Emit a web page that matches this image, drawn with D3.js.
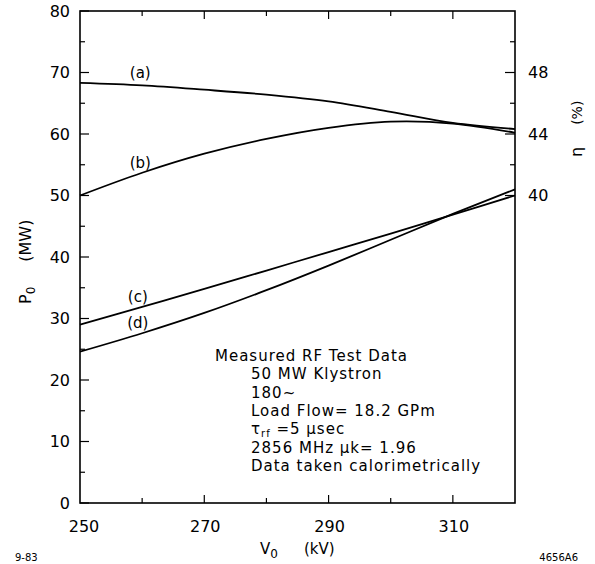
<!DOCTYPE html>
<html>
<head>
<meta charset="utf-8">
<script src="https://cdn.jsdelivr.net/npm/d3@7"></script>
<style>
  body { margin: 0; background: #fff; }
  svg { font-family: "DejaVu Sans", sans-serif; }
</style>
</head>
<body>
<div id="chart"></div>
<script>
// data
const voltage = [250, 260, 270, 280, 290, 300, 310, 320];
const curveA = [68.3, 67.9, 67.2, 66.4, 65.3, 63.6, 61.8, 60.8];
const curveB = [50.0, 53.7, 56.8, 59.2, 61.0, 62.0, 61.7, 60.2];
const curveC = [29.0, 31.9, 34.8, 37.8, 40.8, 43.8, 46.9, 50.0];
const curveD = [24.6, 27.6, 30.9, 34.6, 38.6, 42.8, 47.0, 51.0];
const curveNames = ["(a)", "(b)", "(c)", "(d)"];
// label anchor positions (kV, MW)
const labelV = [259.7, 259.7, 259.3, 259.3];
const labelP = [69.1, 54.5, 32.7, 28.5];

const xTickLabels = [250, 270, 290, 310];
const xMinorTicks = [260, 280, 300];
const pTicks = [0, 10, 20, 30, 40, 50, 60, 70, 80];
const pMinor = [5, 15, 25, 35, 45, 55, 65, 75];
const etaTicks = [40, 42, 44, 46, 48, 50];
const etaLabels = [40, 44, 48];

const noteLines = [
  "Measured RF Test Data",
  "50 MW Klystron",
  "180~",
  "Load Flow= 18.2 GPm",
  "τ|rf| =5 μsec",
  "2856 MHz  μk= 1.96",
  "Data taken calorimetrically"
];

const W = 595, H = 564;
const svg = d3.select("#chart").append("svg")
  .attr("width", W).attr("height", H);

const x = d3.scaleLinear().domain([250, 320]).range([80, 515]);
const y = d3.scaleLinear().domain([0, 80]).range([503, 11]);
const yEta = d3.scaleLinear().domain([20, 52]).range([503, 11]);

// frame
svg.append("rect")
  .attr("x", x(250)).attr("y", y(80))
  .attr("width", x(320) - x(250)).attr("height", y(0) - y(80))
  .attr("fill", "none").attr("stroke", "#000").attr("stroke-width", 1.6);

// left axis ticks (inward)
const left = svg.append("g").attr("transform", `translate(${x(250)},0)`);
left.selectAll(".maj").data(pTicks).join("line")
  .attr("x1", 0).attr("x2", 9).attr("y1", d => y(d)).attr("y2", d => y(d))
  .attr("stroke", "#000").attr("stroke-width", 1.2);
left.selectAll(".min").data(pMinor).join("line")
  .attr("class", "min")
  .attr("x1", 0).attr("x2", 5).attr("y1", d => y(d)).attr("y2", d => y(d))
  .attr("stroke", "#000").attr("stroke-width", 1.2);
left.selectAll("text").data(pTicks).join("text")
  .attr("x", -10).attr("y", d => y(d) + 5.5)
  .attr("text-anchor", "end")
  .style("font-size", "16px")
  .text(d => d);

// right axis (efficiency)
const right = svg.append("g").attr("transform", `translate(${x(320)},0)`);
right.selectAll("line").data(etaTicks).join("line")
  .attr("x1", d => etaLabels.includes(d) ? -10 : -5).attr("x2", 0)
  .attr("y1", d => yEta(d)).attr("y2", d => yEta(d))
  .attr("stroke", "#000").attr("stroke-width", 1.2);
right.selectAll("text").data(etaLabels).join("text")
  .attr("x", 13).attr("y", d => yEta(d) + 5.5)
  .style("font-size", "16px")
  .text(d => d);

// bottom and top ticks
[y(0), y(80)].forEach((yy, i) => {
  const dir = i === 0 ? -1 : 1;
  svg.append("g").selectAll("line")
    .data(xTickLabels.slice(1).concat(xMinorTicks)).join("line")
    .attr("x1", d => x(d)).attr("x2", d => x(d))
    .attr("y1", yy)
    .attr("y2", d => yy + dir * (xMinorTicks.includes(d) ? 5 : 8))
    .attr("stroke", "#000").attr("stroke-width", 1.2);
});
svg.append("g").selectAll("text").data(xTickLabels).join("text")
  .attr("x", d => x(d) + (d === 250 ? 4 : 1)).attr("y", 532)
  .attr("text-anchor", "middle")
  .style("font-size", "16px")
  .text(d => d);

// curves
const line = d3.line()
  .x((d, i) => x(voltage[i]))
  .y(d => y(d))
  .curve(d3.curveCatmullRom.alpha(0.5));

[curveA, curveB, curveC, curveD].forEach(c => {
  svg.append("path")
    .datum(c)
    .attr("d", line)
    .attr("fill", "none")
    .attr("stroke", "#000")
    .attr("stroke-width", 1.8);
});

svg.append("g").selectAll("text").data(curveNames).join("text")
  .attr("x", (d, i) => x(labelV[i]))
  .attr("y", (d, i) => y(labelP[i]))
  .attr("text-anchor", "middle")
  .style("font-size", "15px")
  .text(d => d);

// axis titles
const xt = svg.append("text")
  .attr("x", 260).attr("y", 554)
  .style("font-size", "15px");
xt.append("tspan").text("V");
xt.append("tspan").attr("dy", 4).style("font-size", "12px").text("0");
xt.append("tspan").attr("dy", -4).attr("dx", 26).text("(kV)");

const yt = svg.append("text")
  .attr("transform", "translate(31,304) rotate(-90)")
  .style("font-size", "16px");
yt.append("tspan").text("P");
yt.append("tspan").attr("dy", 4).style("font-size", "12px").text("0");
yt.append("tspan").attr("dy", -4).attr("dx", 25).text("(MW)");

const et = svg.append("text")
  .attr("transform", "translate(582,157) rotate(-90)")
  .style("font-size", "16px");
et.append("tspan").text("η");
et.append("tspan").attr("dx", 22).style("font-size", "14px").text("(%)");

// notes block
const note = svg.append("g");
noteLines.forEach((s, i) => {
  const t = note.append("text")
    .attr("x", i === 0 ? 215 : 251)
    .attr("y", 361 + i * 18.3)
    .style("font-size", "15px")
    .style("letter-spacing", "1px");
  const parts = s.split("|");
  parts.forEach((p, j) => {
    const ts = t.append("tspan").text(p);
    if (j === 1) ts.attr("dy", 3).style("font-size", "10px");
    if (j === 2) ts.attr("dy", -3);
  });
});

svg.append("text").attr("x", 15).attr("y", 561)
  .style("font-size", "10px").text("9-83");
svg.append("text").attr("x", 578).attr("y", 561)
  .attr("text-anchor", "end")
  .style("font-size", "10px").text("4656A6");
</script>
</body>
</html>
